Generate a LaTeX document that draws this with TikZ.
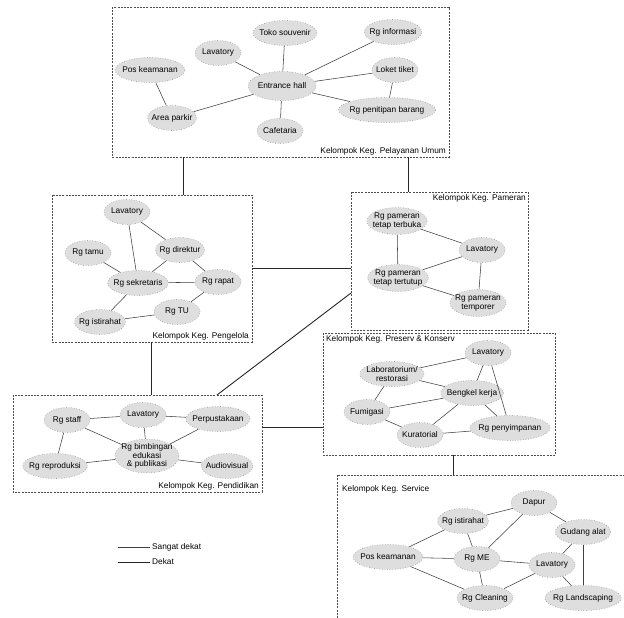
\documentclass[tikz,border=0pt]{standalone}
\usepackage{fontspec}
\setmainfont{Liberation Sans}
\usetikzlibrary{shapes.geometric}
\begin{document}
\begin{tikzpicture}[x=1pt,y=-1pt,
 room/.style={ellipse, draw=gray!80, dotted, line width=0.6pt, fill=gray!26, font=\fontsize{8.3}{8.6}\selectfont, inner xsep=-3pt, inner ysep=1.5pt, minimum height=25pt, minimum width=46pt, align=center},
 grp/.style={draw=black!70, line width=0.5pt, dash pattern=on 2pt off 1.2pt},
 lnk/.style={draw=black!75, line width=0.55pt},
 glnk/.style={draw=black!85, line width=0.9pt},
 lbl/.style={font=\fontsize{8.3}{9}\selectfont, inner sep=1pt}]
\useasboundingbox (0,0) rectangle (624,618);
\fill[white] (0,0) rectangle (624,618);

% group boxes
\draw[grp] (112,7) rectangle (449,157);
\draw[grp] (52,195) rectangle (252,342);
\draw[grp] (351,192) rectangle (528,330);
\draw[grp] (13,395) rectangle (262,492);
\draw[grp] (323,333) rectangle (555,455);
\draw[grp] (337,618) -- (337,475) -- (624,475);

\node[lbl, anchor=south east] (t1) at (447,156) {Kelompok Keg. Pelayanan Umum};
\node[lbl, anchor=south east] (t2) at (250,341) {Kelompok Keg. Pengelola};
\node[lbl, anchor=north east] (t3) at (527,193) {Kelompok Keg. Pameran};
\node[lbl, anchor=south east] (t4) at (260,491) {Kelompok Keg. Pendidikan};
\node[lbl, anchor=north west] (t5) at (325,334) {Kelompok Keg. Preserv \& Konserv};
\node[lbl, anchor=north west] (t6) at (341,484) {Kelompok Keg. Service};

% connectors between groups
\coordinate (g1a) at (183,157); \coordinate (g1b) at (183,195);
\coordinate (g2a) at (408,157); \coordinate (g2b) at (408,192);
\coordinate (g3a) at (252,268); \coordinate (g3b) at (351,268);
\coordinate (g4a) at (351,293); \coordinate (g4b) at (217,395);
\coordinate (g5a) at (151,342); \coordinate (g5b) at (151,395);
\coordinate (g6a) at (262,427); \coordinate (g6b) at (323,427);
\coordinate (g7a) at (453,455); \coordinate (g7b) at (453,475);
\draw[glnk] (g1a) -- (g1b);
\draw[glnk] (g2a) -- (g2b);
\draw[glnk] (g3a) -- (g3b);
\draw[glnk] (g4a) -- (g4b);
\draw[glnk] (g5a) -- (g5b);
\draw[glnk] (g6a) -- (g6b);
\draw[glnk] (g7a) -- (g7b);

% group 1: Pelayanan Umum
\node[room] (a1) at (285,33) {Toko souvenir};
\node[room] (a2) at (218,53) {Lavatory};
\node[room] (a3) at (150,70) {Pos keamanan};
\node[room, minimum height=29pt, minimum width=68pt] (a4) at (282,86) {Entrance hall};
\node[room] (a5) at (393,32) {Rg informasi};
\node[room] (a6) at (395,70) {Loket tiket};
\node[room] (a7) at (387,110) {Rg penitipan barang};
\node[room] (a8) at (172,118) {Area parkir};
\node[room] (a9) at (280,131) {Cafetaria};
\draw[lnk] (a4) -- (a1);
\draw[lnk] (a4) -- (a2);
\draw[lnk] (a4) -- (a5);
\draw[lnk] (a4) -- (a6);
\draw[lnk] (a4) -- (a7);
\draw[lnk] (a4) -- (a9);
\draw[lnk] (a4) -- (a8);
\draw[lnk] (a3) -- (a8);
\draw[lnk] (a6) -- (a7);

% group 2: Pengelola
\node[room] (b1) at (127,212) {Lavatory};
\node[room] (b2) at (88,253) {Rg tamu};
\node[room] (b3) at (180,250) {Rg direktur};
\node[room] (b4) at (138,283) {Rg sekretaris};
\node[room] (b5) at (218,282) {Rg rapat};
\node[room] (b6) at (100,322) {Rg istirahat};
\node[room] (b7) at (177,312) {Rg TU};
\draw[lnk] (b1) -- (b4);
\draw[lnk] (b1) -- (b3);
\draw[lnk] (b2) -- (b4);
\draw[lnk] (b3) -- (b4);
\draw[lnk] (b3) -- (b5);
\draw[lnk] (b4) -- (b5);
\draw[lnk] (b4) -- (b6);
\draw[lnk] (b5) -- (b7);
\draw[lnk] (b6) -- (b7);

% group 3: Pameran
\node[room] (c1) at (397,221) {Rg pameran\\tetap terbuka};
\node[room] (c2) at (482,250) {Lavatory};
\node[room] (c3) at (398,278) {Rg pameran\\tetap tertutup};
\node[room] (c4) at (478,303) {Rg pameran\\temporer};
\draw[lnk] (c1) -- (c2);
\draw[lnk] (c1) -- (c3);
\draw[lnk] (c3) -- (c2);
\draw[lnk] (c3) -- (c4);
\draw[lnk] (c2) -- (c4);

% group 4: Pendidikan
\node[room] (d1) at (67,420) {Rg staff};
\node[room] (d2) at (143,415) {Lavatory};
\node[room] (d3) at (218,419) {Perpustakaan};
\node[room, inner ysep=-0.5pt] (d4) at (147,456) {Rg bimbingan\\edukasi\\\& publikasi};
\node[room] (d5) at (55,466) {Rg reproduksi};
\node[room] (d6) at (227,466) {Audiovisual};
\draw[lnk] (d1) -- (d2);
\draw[lnk] (d2) -- (d3);
\draw[lnk] (d1) -- (d4);
\draw[lnk] (d2) -- (d4);
\draw[lnk] (d3) -- (d4);
\draw[lnk] (d1) -- (d5);
\draw[lnk] (d5) -- (d4);
\draw[lnk] (d4) -- (d6);

% group 5: Preserv & Konserv
\node[room] (e1) at (488,353) {Lavatory};
\node[room] (e2) at (392,374) {Laboratorium/\\restorasi};
\node[room] (e3) at (472,393) {Bengkel kerja};
\node[room] (e4) at (367,412) {Fumigasi};
\node[room] (e5) at (420,435) {Kuratorial};
\node[room] (e6) at (510,428) {Rg penyimpanan};
\draw[lnk] (e1) -- (e2);
\draw[lnk] (e1) -- (e3);
\draw[lnk] (e1) -- (e6);
\draw[lnk] (e2) -- (e3);
\draw[lnk] (e2) -- (e4);
\draw[lnk] (e4) -- (e3);
\draw[lnk] (e4) -- (e5);
\draw[lnk] (e3) -- (e5);
\draw[lnk] (e3) -- (e6);
\draw[lnk] (e5) -- (e6);

% group 6: Service
\node[room] (f1) at (534,503) {Dapur};
\node[room] (f2) at (463,521) {Rg istirahat};
\node[room] (f3) at (583,532) {Gudang alat};
\node[room] (f4) at (388,557) {Pos keamanan};
\node[room] (f5) at (477,559) {Rg ME};
\node[room] (f6) at (552,565) {Lavatory};
\node[room] (f7) at (485,598) {Rg Cleaning};
\node[room] (f8) at (583,598) {Rg Landscaping};
\draw[lnk] (f2) -- (f1);
\draw[lnk] (f2) -- (f5);
\draw[lnk] (f2) -- (f4);
\draw[lnk] (f1) -- (f3);
\draw[lnk] (f1) -- (f5);
\draw[lnk] (f4) -- (f5);
\draw[lnk] (f4) -- (f7);
\draw[lnk] (f5) -- (f6);
\draw[lnk] (f5) -- (f7);
\draw[lnk] (f6) -- (f7);
\draw[lnk] (f6) -- (f8);
\draw[lnk] (f3) -- (f6);
\draw[lnk] (f3) -- (f8);

% legend
\coordinate (l1a) at (118,547); \coordinate (l1b) at (150,547);
\coordinate (l2a) at (118,562); \coordinate (l2b) at (150,562);
\draw[lnk] (l1a) -- (l1b);
\draw[glnk] (l2a) -- (l2b);
\node[lbl, anchor=west] (l1t) at (151,547) {Sangat dekat};
\node[lbl, anchor=west] (l2t) at (151,562) {Dekat};
\end{tikzpicture}
\end{document}
